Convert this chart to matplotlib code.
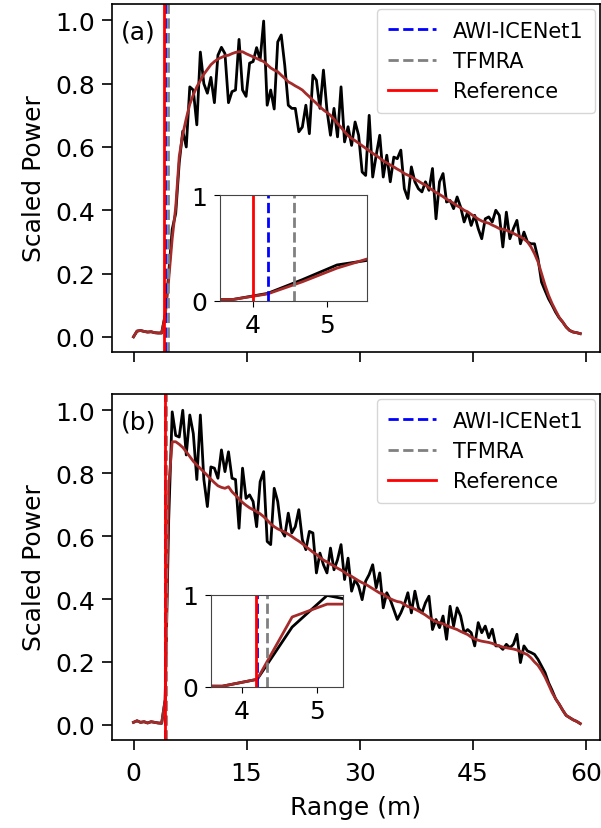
import numpy as np
import matplotlib
matplotlib.use('Agg')
from matplotlib import pyplot as plt

plt.rcParams['font.family'] = ['DejaVu Sans']

# range bins (m)
n_bins = 128
bin_size = 0.4667
rng = np.arange(n_bins) * bin_size

# panel (a): waveform and smoothed waveform
raw_a = [0.0, 0.018, 0.02, 0.017, 0.015, 0.016, 0.013, 0.012, 0.012, 0.07,
         0.20, 0.34, 0.39, 0.55, 0.65, 0.60, 0.79, 0.78, 0.67, 0.90,
         0.80, 0.77, 0.82, 0.74, 0.89, 0.915, 0.895, 0.74, 0.775, 0.78,
         0.94, 0.78, 0.76, 0.865, 0.87, 0.914, 0.875, 0.998, 0.732, 0.78,
         0.72, 0.932, 0.954, 0.858, 0.732, 0.722, 0.722, 0.648, 0.663, 0.732,
         0.642, 0.827, 0.811, 0.722, 0.843, 0.716, 0.637, 0.722, 0.632, 0.79,
         0.616, 0.664, 0.605, 0.679, 0.637, 0.521, 0.51, 0.70, 0.505, 0.574,
         0.637, 0.505, 0.574, 0.49, 0.568, 0.563, 0.59, 0.468, 0.437, 0.537,
         0.49, 0.468, 0.458, 0.49, 0.463, 0.532, 0.373, 0.49, 0.516, 0.426,
         0.431, 0.405, 0.442, 0.41, 0.363, 0.394, 0.352, 0.384, 0.342, 0.31,
         0.373, 0.379, 0.363, 0.40, 0.384, 0.284, 0.394, 0.31, 0.342, 0.368,
         0.294, 0.331, 0.30, 0.294, 0.294, 0.247, 0.173, 0.146, 0.12, 0.10,
         0.078, 0.06, 0.047, 0.031, 0.02, 0.015, 0.013, 0.01]
smooth_a = [0.0, 0.018, 0.02, 0.017, 0.015, 0.016, 0.013, 0.012, 0.012, 0.065,
            0.18, 0.31, 0.41, 0.57, 0.64, 0.69, 0.735, 0.765, 0.79, 0.81,
            0.83, 0.845, 0.86, 0.87, 0.878, 0.883, 0.888, 0.89, 0.895, 0.899,
            0.901, 0.901, 0.895, 0.89, 0.885, 0.88, 0.875, 0.87, 0.86, 0.85,
            0.843, 0.838, 0.827, 0.817, 0.806, 0.80, 0.793, 0.787, 0.78, 0.769,
            0.759, 0.748, 0.738, 0.727, 0.717, 0.709, 0.70, 0.688, 0.674, 0.662,
            0.648, 0.636, 0.627, 0.62, 0.612, 0.604, 0.596, 0.588, 0.58, 0.573,
            0.565, 0.556, 0.55, 0.543, 0.537, 0.53, 0.524, 0.516, 0.511, 0.506,
            0.498, 0.492, 0.485, 0.48, 0.471, 0.464, 0.456, 0.45, 0.443, 0.435,
            0.429, 0.422, 0.414, 0.408, 0.40, 0.395, 0.387, 0.38, 0.372, 0.366,
            0.362, 0.359, 0.353, 0.348, 0.342, 0.34, 0.337, 0.332, 0.327, 0.321,
            0.316, 0.309, 0.30, 0.284, 0.263, 0.237, 0.20, 0.163, 0.131, 0.105,
            0.083, 0.062, 0.047, 0.031, 0.02, 0.015, 0.013, 0.01]

# panel (b)
raw_b = [0.008, 0.013, 0.008, 0.01, 0.006, 0.01, 0.008, 0.006, 0.005, 0.08,
         0.65, 0.995, 0.92, 0.915, 1.0, 0.858, 0.985, 0.926, 0.78, 0.985,
         0.78, 0.694, 0.82, 0.816, 0.784, 0.874, 0.805, 0.868, 0.784, 0.78,
         0.625, 0.816, 0.72, 0.731, 0.71, 0.63, 0.773, 0.805, 0.583, 0.573,
         0.752, 0.71, 0.62, 0.60, 0.673, 0.61, 0.63, 0.684, 0.589, 0.557,
         0.615, 0.61, 0.483, 0.546, 0.509, 0.483, 0.562, 0.493, 0.525, 0.573,
         0.462, 0.53, 0.425, 0.462, 0.441, 0.398, 0.457, 0.478, 0.509, 0.436,
         0.483, 0.372, 0.42, 0.398, 0.367, 0.335, 0.356, 0.383, 0.42, 0.356,
         0.425, 0.372, 0.356, 0.388, 0.409, 0.303, 0.335, 0.309, 0.346, 0.272,
         0.377, 0.314, 0.372, 0.346, 0.293, 0.303, 0.293, 0.251, 0.325, 0.293,
         0.314, 0.277, 0.304, 0.251, 0.251, 0.24, 0.256, 0.245, 0.256, 0.288,
         0.198, 0.251, 0.235, 0.23, 0.224, 0.208, 0.187, 0.166, 0.134, 0.11,
         0.083, 0.066, 0.047, 0.03, 0.023, 0.016, 0.011, 0.004]
smooth_b = [0.008, 0.013, 0.008, 0.01, 0.006, 0.01, 0.008, 0.006, 0.005, 0.08,
            0.76, 0.90, 0.90, 0.892, 0.882, 0.868, 0.853, 0.838, 0.826, 0.815,
            0.804, 0.793, 0.781, 0.77, 0.76, 0.755, 0.752, 0.757, 0.741, 0.73,
            0.718, 0.707, 0.698, 0.69, 0.684, 0.678, 0.671, 0.662, 0.651, 0.639,
            0.63, 0.623, 0.618, 0.613, 0.606, 0.599, 0.591, 0.584, 0.576, 0.567,
            0.558, 0.549, 0.542, 0.532, 0.524, 0.518, 0.511, 0.505, 0.498, 0.492,
            0.485, 0.477, 0.472, 0.465, 0.458, 0.452, 0.447, 0.44, 0.433, 0.426,
            0.419, 0.416, 0.407, 0.401, 0.396, 0.392, 0.39, 0.383, 0.376, 0.373,
            0.368, 0.362, 0.356, 0.349, 0.341, 0.334, 0.328, 0.325, 0.321, 0.316,
            0.311, 0.307, 0.303, 0.297, 0.292, 0.287, 0.279, 0.273, 0.269, 0.266,
            0.264, 0.262, 0.259, 0.254, 0.251, 0.247, 0.245, 0.243, 0.241, 0.238,
            0.233, 0.228, 0.223, 0.213, 0.20, 0.189, 0.172, 0.152, 0.128, 0.103,
            0.083, 0.066, 0.047, 0.03, 0.023, 0.016, 0.011, 0.004]

# retracked surface positions (m): AWI-ICENet1, TFMRA, Reference
picks_a = [4.2, 4.55, 4.0]
picks_b = [4.2, 4.33, 4.18]
labels = ['AWI-ICENet1', 'TFMRA', 'Reference']

fig = plt.figure(figsize=(6.01, 8.29), dpi=100)
ax1 = fig.add_axes([0.1864, 0.5742, 0.812, 0.4198])
ax2 = fig.add_axes([0.1864, 0.1062, 0.812, 0.4174])
in1 = fig.add_axes([0.366, 0.636, 0.245, 0.127])
in2 = fig.add_axes([0.3506, 0.1705, 0.2206, 0.1106])


def draw(ax, raw, smooth, picks):
    ax.plot(rng, raw, color='black', lw=2)
    ax.plot(rng, smooth, color='brown', lw=2)
    ax.axvline(picks[0], color='blue', ls='--', lw=2, label=labels[0])
    ax.axvline(picks[1], color='gray', ls='--', lw=2, label=labels[1])
    ax.axvline(picks[2], color='red', ls='-', lw=2, label=labels[2])


for ax, raw, smooth, picks, tag in [(ax1, raw_a, smooth_a, picks_a, '(a)'),
                                    (ax2, raw_b, smooth_b, picks_b, '(b)')]:
    draw(ax, raw, smooth, picks)
    ax.set_xlim(-2.85, 61.9)
    ax.set_ylim(-0.048, 1.052)
    ax.set_xticks([0, 15, 30, 45, 60])
    ax.set_yticks([0.0, 0.2, 0.4, 0.6, 0.8, 1.0])
    ax.set_yticklabels(['0.0', '0.2', '0.4', '0.6', '0.8', '1.0'])
    ax.tick_params(labelsize=18, length=7, width=1.2, pad=5)
    ax.tick_params(axis='x', pad=8)
    for s in ax.spines.values():
        s.set_linewidth(1.2)
    ax.set_ylabel('Scaled Power', fontsize=18, labelpad=7)
    ax.text(0.018, 0.955, tag, transform=ax.transAxes, fontsize=18, va='top', ha='left')
    ax.legend(loc='upper right', fontsize=15, handlelength=2.3, labelspacing=0.5,
              borderpad=0.55, borderaxespad=0.25, edgecolor='#cccccc')

ax1.tick_params(labelbottom=False)
ax2.set_xlabel('Range (m)', fontsize=18, labelpad=7)

for ax, raw, smooth, picks, xl in [(in1, raw_a, smooth_a, picks_a, (3.56, 5.54)),
                                   (in2, raw_b, smooth_b, picks_b, (3.58, 5.35))]:
    draw(ax, raw, smooth, picks)
    ax.set_xlim(*xl)
    ax.set_ylim(0, 1)
    ax.set_xticks([4, 5])
    ax.set_yticks([0, 1])
    ax.tick_params(labelsize=18, length=4, width=0.8, pad=5)
    for s in ax.spines.values():
        s.set_linewidth(0.8)
        s.set_color('#444444')

fig.savefig('out.png', dpi=100)
